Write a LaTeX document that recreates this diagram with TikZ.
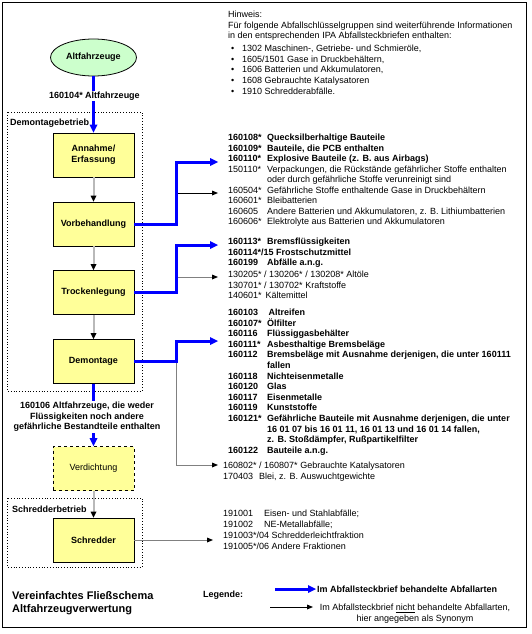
\documentclass[tikz,border=0pt]{standalone}
\usepackage{fontspec}
\setmainfont{Liberation Sans}
\usetikzlibrary{arrows.meta,shapes.geometric}
\definecolor{boxyellow}{RGB}{255,255,153}
\definecolor{ellgreen}{RGB}{204,255,204}
\definecolor{flowblue}{RGB}{0,0,255}
\newcommand\cd[1]{\makebox[39pt][l]{#1}}
\newcommand\cdk[1]{\makebox[36pt][l]{#1}}
\newcommand\cds[1]{\makebox[41pt][l]{#1}}
\begin{document}
\begin{tikzpicture}[x=1pt,y=-1pt,
 every node/.style={font=\fontsize{9}{10.5}\selectfont},
 proc/.style={draw=black, line width=0.8pt, fill=boxyellow, minimum width=81pt, minimum height=44pt, inner sep=0pt, align=center, font=\fontsize{9}{11}\selectfont\bfseries},
 txt/.style={anchor=base west, inner sep=0pt},
 btxt/.style={txt, font=\fontsize{9}{10.5}\selectfont\bfseries},
 lbl/.style={fill=white, inner sep=1pt, align=center, font=\fontsize{9}{10.5}\selectfont\bfseries},
 blueflow/.style={draw=flowblue, line width=3pt, -{Triangle[length=8pt,width=8pt,line width=0pt]}},
 grayflow/.style={draw=gray!55, line width=2pt, -{Triangle[length=6pt,width=6pt,line width=0pt,color=black]}},
 thinflow/.style={draw=black, line width=0.8pt, -{Triangle[length=6pt,width=5pt,line width=0pt]}},
 thingray/.style={draw=gray, line width=0.8pt, -{Triangle[length=6pt,width=5pt,line width=0pt,color=black]}},
 grouping/.style={draw=black, dotted, line width=0.8pt},
]
\useasboundingbox (0,0) rectangle (531,634);
\draw[line width=0.8pt] (2.5,2.5) rectangle (526.5,627.5);

% grouping frames
\draw[grouping] (7,112) rectangle (142,391);
\draw[grouping] (7,498) rectangle (142,567);
\node[btxt] (gdem) at (10,125) {Demontagebetrieb};
\node[btxt] (gsch) at (12,512) {Schredderbetrieb};

% main flow
\node[ellipse, draw=black, line width=0.8pt, fill=ellgreen, minimum width=86pt, minimum height=37pt, inner sep=0pt, font=\fontsize{9}{11}\selectfont\bfseries] (alt) at (93.5,57.5) {Altfahrzeuge};
\node[proc] (ann) at (93.5,155) {Annahme/\\Erfassung};
\node[proc] (vorb) at (93.5,224) {Vorbehandlung};
\node[proc] (trock) at (93.5,292.5) {Trockenlegung};
\node[proc] (dem) at (93.5,361.5) {Demontage};
\node[proc, dashed, font=\fontsize{9}{11}\selectfont] (verd) at (93.5,468.5) {Verdichtung};
\node[proc] (schred) at (93.5,540) {Schredder};

\draw[blueflow] (alt) -- (ann);
\node[lbl] (l1) at (94.5,96) {160104* Altfahrzeuge};
\draw[grayflow] (ann) -- (vorb);
\draw[grayflow] (vorb) -- (trock);
\draw[grayflow] (trock) -- (dem);
\draw[blueflow] (dem) -- (verd);
\node[lbl] (l2) at (87,417) {160106 Altfahrzeuge, die weder\\Flüssigkeiten noch andere\\gefährliche Bestandteile enthalten};
\draw[grayflow] (verd) -- (schred);

% right side connectors
\coordinate (vb1) at (218,162);
\coordinate (vb2a) at (176,193);
\coordinate (vb2) at (218,193);
\coordinate (tr1) at (218,245);
\coordinate (tr2a) at (176,277);
\coordinate (tr2) at (218,277);
\coordinate (de1) at (218,341);
\coordinate (de2a) at (176,362);
\coordinate (de2) at (218,465);
\coordinate (sc1) at (213,540);

\draw[thinflow] (vb2a) -- (vb2);
\draw[blueflow] (vorb.east) -- ++(42.5,0) |- (vb1);
\draw[thingray] (tr2a) -- (tr2);
\draw[blueflow] (trock.east) -- ++(42.5,0) |- (tr1);
\draw[thingray] (de2a) |- (de2);
\draw[blueflow] (dem.east) -- ++(42.5,0) |- (de1);
\draw[thingray] (schred.east) -- (sc1);

% Hinweis
\node[txt] (h0) at (228,17.5) {Hinweis:};
\node[txt] (h1) at (228,28.5) {Für folgende Abfallschlüsselgruppen sind weiterführende Informationen};
\node[txt] (h2) at (228,38.5) {in den entsprechenden IPA Abfallsteckbriefen enthalten:};
\foreach \t [count=\i] in {{1302 Maschinen-, Getriebe- und Schmieröle,},{1605/1501 Gase in Druckbehältern,},{1606 Batterien und Akkumulatoren,},{1608 Gebrauchte Katalysatoren},{1910 Schredderabfälle.}}{
  \node[txt] (hb\i) at (231,{52+10.5*(\i-1)}) {\textbullet};
  \node[txt] (hi\i) at (242,{52+10.5*(\i-1)}) {\t};
}

% Vorbehandlung list
\foreach \t [count=\i] in {{\cd{160108*}Quecksilberhaltige Bauteile},{\cd{160109*}Bauteile, die PCB enthalten},{\cd{160110*}Explosive Bauteile (z. B. aus Airbags)}}
  \node[btxt] (va\i) at (228,{140.5+10.5*(\i-1)}) {\t};
\foreach \t [count=\i] in {{\cd{150110*}Verpackungen, die Rückstände gefährlicher Stoffe enthalten},{\cd{}oder durch gefährliche Stoffe verunreinigt sind},{\cd{160504*}Gefährliche Stoffe enthaltende Gase in Druckbehältern},{\cd{160601*}Bleibatterien},{\cd{160605}Andere Batterien und Akkumulatoren, z. B. Lithiumbatterien},{\cd{160606*}Elektrolyte aus Batterien und Akkumulatoren}}
  \node[txt] (vr\i) at (228,{172+10.5*(\i-1)}) {\t};

% Trockenlegung list
\foreach \t [count=\i] in {{\cd{160113*}Bremsflüssigkeiten},{160114*/15 Frostschutzmittel},{\cd{160199}Abfälle a.n.g.}}
  \node[btxt] (ta\i) at (228,{244.5+10.5*(\i-1)}) {\t};
\foreach \t [count=\i] in {{130205* / 130206* / 130208* Altöle},{130701* / 130702* Kraftstoffe},{\makebox[37.5pt][l]{140601*}Kältemittel}}
  \node[txt] (tr\i) at (228,{277.5+10.5*(\i-1)}) {\t};

% Demontage list
\foreach \t [count=\i] in {{\cd{160103}\hspace{1.5pt}Altreifen},{\cd{160107*}Ölfilter},{\cd{160116}Flüssiggasbehälter},{\cd{160111*}Asbesthaltige Bremsbeläge},{\cd{160112}Bremsbeläge mit Ausnahme derjenigen, die unter 160111},{\cd{}fallen},{\cd{160118}Nichteisenmetalle},{\cd{160120}Glas},{\cd{160117}Eisenmetalle},{\cd{160119}Kunststoffe},{\cd{160121*}Gefährliche Bauteile mit Ausnahme derjenigen, die unter},{\cd{}16 01 07 bis 16 01 11, 16 01 13 und 16 01 14 fallen,},{\cd{}z. B. Stoßdämpfer, Rußpartikelfilter},{\cd{160122}Bauteile a.n.g.}}
  \node[btxt] (da\i) at (228,{315.5+10.6*(\i-1)}) {\t};
\node[txt] (dk1) at (223,468.5) {160802* / 160807* Gebrauchte Katalysatoren};
\node[txt] (dk2) at (223,479.5) {\cdk{170403}Blei, z. B. Auswuchtgewichte};

% Schredder list
\foreach \t [count=\i] in {{\cds{191001}Eisen- und Stahlabfälle;},{\cds{191002}NE-Metallabfälle;},{191003*/04 Schredderleichtfraktion},{191005*/06 Andere Fraktionen}}
  \node[txt] (sl\i) at (223,{516.5+11*(\i-1)}) {\t};

% title and legend
\node[txt, font=\fontsize{11}{13}\selectfont\bfseries] (t1) at (12,599) {Vereinfachtes Fließschema};
\node[txt, font=\fontsize{11}{13}\selectfont\bfseries] (t2) at (12,612.5) {Altfahrzeugverwertung};
\node[btxt] (leg) at (203,597.5) {Legende:};
\coordinate (lgA) at (275,589);
\coordinate (lgB) at (316,589);
\coordinate (lgC) at (270,607);
\coordinate (lgD) at (313,607);
\draw[blueflow] (lgA) -- (lgB);
\draw[thinflow] (lgC) -- (lgD);
\node[btxt] (lg1) at (317,592.2) {Im Abfallsteckbrief behandelte Abfallarten};
\node[align=center, inner sep=0pt] (lg2) at (415,613.5) {Im Abfallsteckbrief \underline{nicht} behandelte Abfallarten,\\hier angegeben als Synonym};
\end{tikzpicture}
\end{document}
